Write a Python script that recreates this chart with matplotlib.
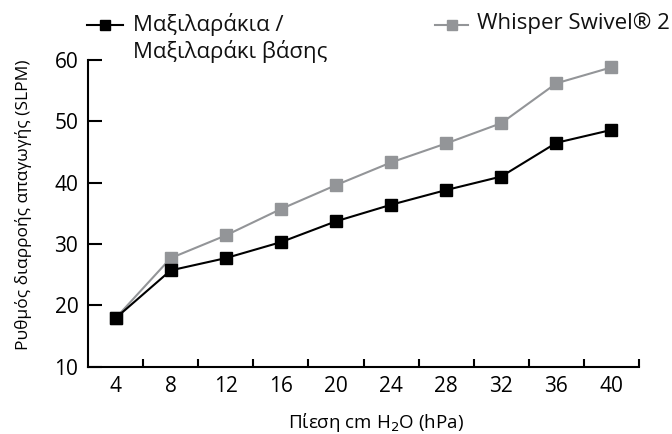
import matplotlib
matplotlib.use("Agg")
import matplotlib.pyplot as plt
from matplotlib.lines import Line2D

plt.rcParams['font.family'] = ['Open Sans', 'DejaVu Sans']

pressure = ["4", "8", "12", "16", "20", "24", "28", "32", "36", "40"]
cushions = [17.9, 25.7, 27.7, 30.3, 33.7, 36.4, 38.8, 41.0, 46.5, 48.6]
whisper_swivel = [17.9, 27.7, 31.4, 35.7, 39.6, 43.3, 46.4, 49.7, 56.2, 58.8]

label_cushions = "Μαξιλαράκια /\nΜαξιλαράκι βάσης"
label_whisper = "Whisper Swivel® 2"

BLACK = "#000000"
GREY = "#939598"

W, H = 672, 434
fig = plt.figure(figsize=(W / 100, H / 100), dpi=100)
ax = fig.add_axes([88 / W, 1 - 366.7 / H, (639 - 88) / W, (366.7 - 60) / H])

x = list(range(len(pressure)))
ax.plot(x, cushions, color=BLACK, lw=1.5, marker="s", ms=8.5,
        mec=BLACK, mfc=BLACK, zorder=3)
ax.plot(x, whisper_swivel, color=GREY, lw=1.5, marker="s", ms=8.5,
        mec=GREY, mfc=GREY, zorder=2)

ax.set_xlim(-0.5, len(pressure) - 0.5)
ax.set_ylim(10, 60)
ax.set_yticks([10, 20, 30, 40, 50, 60])
ax.set_xticks(x)
ax.set_xticklabels(pressure)
ax.set_xticks([i + 0.5 for i in x], minor=True)
ax.tick_params(axis="x", which="major", length=0, pad=7, labelsize=15)
ax.tick_params(axis="x", which="minor", direction="in", length=6, width=1.5)
ax.tick_params(axis="y", direction="in", length=10, width=1.5, pad=7, labelsize=15)

for side in ("top", "right"):
    ax.spines[side].set_visible(False)
for side in ("left", "bottom"):
    ax.spines[side].set_linewidth(1.5)

ax.set_xlabel("Πίεση cm H$_2$O (hPa)", fontsize=13.5)
ax.xaxis.set_label_coords((376 - 88) / 551, (366.7 - 411) / 306.7)
ax.set_ylabel("Ρυθμός διαρροής απαγωγής (SLPM)", fontsize=12.5)
ax.yaxis.set_label_coords((32 - 88) / 551, (366.7 - 205) / 306.7)


def legend_entry(x0, x1, y, color, text, tx):
    """Line-with-square handle followed by its label, in pixel positions."""
    xm = (x0 + x1) / 2
    fig.add_artist(Line2D([x0 / W, xm / W, x1 / W], [1 - y / H] * 3,
                          transform=fig.transFigure, color=color, lw=1.5,
                          marker="s", ms=7.5, markevery=[1],
                          mec=color, mfc=color))
    fig.text(tx / W, 1 - (y - 12) / H, text, fontsize=16, color="#111111",
             ha="left", va="top", linespacing=1.2)


legend_entry(87, 123, 25, BLACK, label_cushions, 133)
legend_entry(435, 468, 25, GREY, label_whisper, 477)

fig.savefig("out.png", dpi=100)
